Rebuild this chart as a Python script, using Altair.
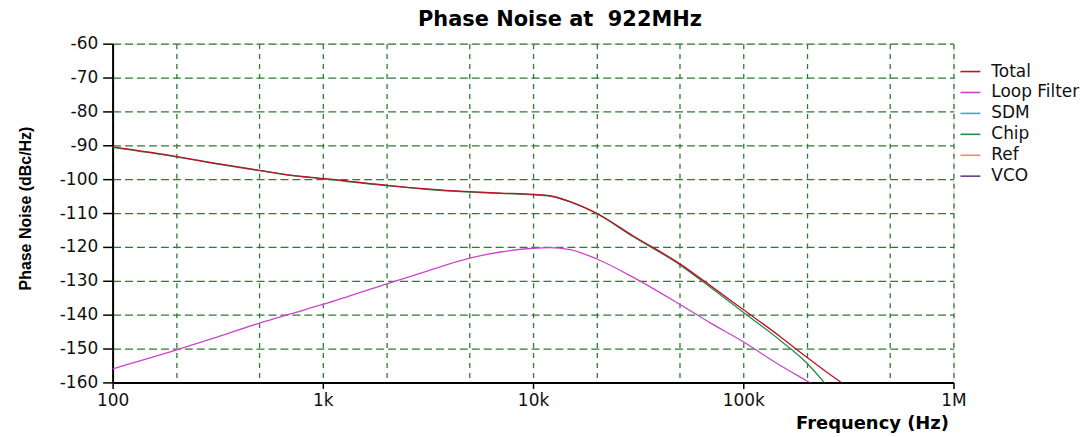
import altair as alt
import pandas as pd

# ---- data ----
freq_total = [100, 200, 300, 500, 700, 1000, 2000, 3000, 5000, 7000, 10000, 12000,
              15000, 20000, 30000, 50000, 70000, 100000, 150000, 200000, 250000, 300000]
total = [-90.5, -93.3, -95.2, -97.4, -98.8, -99.8, -101.8, -102.8, -103.7, -104.1, -104.5,
         -104.9, -106.6, -110.0, -116.8, -125.0, -131.5, -138.5, -146.5, -152.5, -157.0, -160.5]

freq_chip = [100, 200, 300, 500, 700, 1000, 2000, 3000, 5000, 7000, 10000, 12000,
             15000, 20000, 30000, 50000, 70000, 100000, 150000, 200000, 250000]
chip = [-90.6, -93.4, -95.3, -97.5, -98.9, -99.9, -101.9, -102.9, -103.8, -104.2, -104.6,
        -105.0, -106.7, -110.1, -117.0, -125.3, -132.0, -139.3, -147.6, -154.2, -161.0]

freq_lf = [100, 200, 300, 500, 700, 1000, 2000, 3000, 5000, 7000, 10000, 12000,
           15000, 20000, 30000, 50000, 70000, 100000, 150000, 200000, 220000]
loop_filter = [-156.0, -150.5, -147.0, -142.5, -139.8, -137.0, -131.0, -127.5, -123.3, -121.5,
               -120.4, -120.2, -120.8, -123.5, -129.0, -137.0, -142.5, -148.0, -155.0, -159.5, -161.0]

series_names = ["Total", "Loop Filter", "SDM", "Chip", "Ref", "VCO"]
series_colors = ["#c0102a", "#cc44cc", "#3fa9d6", "#2a8a4a", "#f08a7a", "#6a3f8a"]

x_grid = [100, 200, 500, 1000, 2000, 5000, 10000, 20000, 50000,
          100000, 200000, 500000, 1000000]
x_labels = {100: "100", 1000: "1k", 10000: "10k", 100000: "100k", 1000000: "1M"}
y_ticks = list(range(-160, -50, 10))

title_text = "Phase Noise at\u00a0 922MHz"


def frame(name, f, v):
    return pd.DataFrame({"freq": f, "pn": v, "series": name})


label_expr = " : ".join(
    f"datum.value == {k} ? '{v}'" for k, v in x_labels.items()
) + " : ''"

grid_green = "#2f7a35"
decade_test = " || ".join(f"datum.value == {k}" for k in x_labels)

x_enc = alt.X(
    "freq:Q",
    scale=alt.Scale(type="log", domain=[100, 1000000], nice=False),
    axis=alt.Axis(
        values=x_grid,
        labelExpr=label_expr,
        labelOverlap=False,
        labelFlush=False,
        labelFont="DejaVu Sans",
        labelFontSize=17,
        labelColor="#111111",
        labelPadding=4,
        tickSize=6,
        tickColor="black",
        tickWidth=1.5,
        tickOpacity={"condition": {"test": decade_test, "value": 1}, "value": 0},
        domainColor="black",
        domainWidth=2,
        grid=True,
        gridColor=grid_green,
        gridDash=[5, 5],
        gridWidth=1.3,
        title="Frequency (Hz)",
        titleFont="DejaVu Sans",
        titleFontSize=18,
        titleFontWeight="bold",
        titleColor="black",
        titleX=839,
        titleY=46,
        titleAlign="right",
        titleBaseline="alphabetic",
    ),
)

y_enc = alt.Y(
    "pn:Q",
    scale=alt.Scale(domain=[-160, -60], nice=False, zero=False),
    axis=alt.Axis(
        values=y_ticks,
        labelExpr="toString(datum.value)",
        labelFont="DejaVu Sans",
        labelFontSize=17,
        labelColor="#111111",
        labelPadding=5,
        tickSize=10,
        tickColor="black",
        tickWidth=1.5,
        domainColor="black",
        domainWidth=2,
        grid=True,
        gridColor=grid_green,
        gridDash=[8, 4],
        gridWidth=1.3,
        title="Phase Noise (dBc/Hz)",
        titleFont="Liberation Sans",
        titleFontSize=16,
        titleFontWeight="bold",
        titleColor="black",
        titleX=-82,
        titleY=165,
        titleAngle=270,
        titleAlign="center",
        titleBaseline="alphabetic",
    ),
)

color_enc = alt.Color(
    "series:N",
    scale=alt.Scale(domain=series_names, range=series_colors),
    legend=alt.Legend(
        title=None,
        orient="none",
        legendX=850,
        legendY=17,
        symbolType="stroke",
        symbolSize=400,
        symbolStrokeWidth=1.6,
        labelFont="DejaVu Sans",
        labelFontSize=17,
        labelColor="#111111",
        labelOffset=10,
        rowPadding=2,
        padding=0,
    ),
)


def layer(df):
    return alt.Chart(df).mark_line(
        clip=True, strokeWidth=1.3, interpolate="monotone"
    ).encode(x=x_enc, y=y_enc, color=color_enc)


chart = alt.layer(
    layer(frame("Loop Filter", freq_lf, loop_filter)),
    layer(frame("Chip", freq_chip, chip)),
    layer(frame("Total", freq_total, total)),
).properties(
    width=844,
    height=340,
    autosize=alt.AutoSizeParams(type="none"),
    padding={"left": 105, "top": 35, "right": 128, "bottom": 52},
    title=alt.TitleParams(
        title_text,
        font="DejaVu Sans",
        fontSize=21,
        fontWeight="bold",
        color="black",
        anchor="middle",
        dx=27,
        offset=5,
    ),
).configure_view(stroke=None).configure(background="white")

chart.save("out.html", embed_options={"renderer": "svg", "actions": False})
